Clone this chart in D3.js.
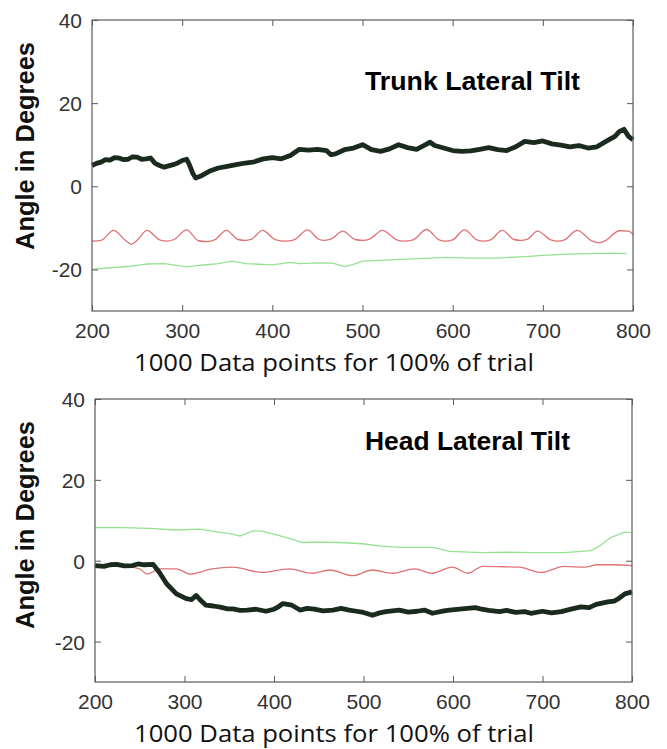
<!DOCTYPE html>
<html>
<head>
<meta charset="utf-8">
<script src="https://cdn.jsdelivr.net/npm/d3@7"></script>
<style>
  body { margin: 0; background: #fff; }
  svg { display: block; }
</style>
</head>
<body>
<div id="chart"></div>
<script>
// --- data (x = data point index, y = angle in degrees) ---
const xTicks = [200, 300, 400, 500, 600, 700, 800];
const yTicks = [-20, 0, 20, 40];

// Trunk lateral tilt
const trunkBlackX = [200,205,210,215,220,225,230,235,240,245,250,255,260,265,270,275,280,285,290,295,300,305,308,312,315,320,325,330,340,350,360,370,380,390,400,410,420,430,440,450,460,465,470,480,490,500,510,520,530,540,550,560,570,575,580,590,600,610,620,630,640,650,660,670,680,690,700,710,720,730,740,750,760,770,780,785,790,795,800];
const trunkBlackY = [5.0,5.5,5.8,6.4,6.3,6.9,6.8,6.4,6.5,7.1,7.0,6.5,6.6,6.8,5.5,5.0,4.6,4.9,5.2,5.6,6.2,6.5,5.2,3.0,2.0,2.4,3.0,3.6,4.4,4.8,5.2,5.6,5.9,6.6,6.9,6.6,7.4,8.9,8.7,8.9,8.6,7.6,7.8,8.8,9.2,10.0,8.8,8.4,9.0,10.0,9.3,8.9,10.0,10.6,9.8,9.2,8.6,8.4,8.5,8.9,9.3,8.8,8.6,9.5,10.8,10.5,10.9,10.2,9.9,9.5,9.8,9.2,9.5,10.8,12.0,13.2,13.7,12.0,11.2];
const trunkRedX = [200,210,224,236,244,250,261,275,283,291,305,318,327,336,349,362,369,377,389,404,414,424,439,452,458,466,478,492,500,508,522,538,546,556,571,585,592,600,613,627,634,642,655,668,675,683,694,709,716,724,738,755,762,770,785,795,800];
const trunkRedY = [-13.2,-13.0,-10.6,-12.8,-13.9,-13.0,-10.6,-12.9,-13.2,-12.8,-10.5,-13.1,-13.3,-12.9,-10.6,-12.8,-13.0,-12.7,-10.6,-12.9,-13.2,-12.9,-10.5,-12.8,-13.0,-12.6,-10.8,-12.8,-13.0,-12.7,-10.6,-12.9,-13.2,-12.9,-10.4,-12.9,-13.2,-12.9,-10.5,-12.9,-13.2,-12.9,-10.6,-12.8,-13.0,-12.7,-10.8,-12.9,-13.2,-12.9,-10.6,-13.2,-13.6,-13.0,-10.7,-10.8,-11.6];
const trunkGreenX = [200,220,240,260,280,300,305,320,340,356,370,400,420,430,450,467,480,490,500,530,560,593,620,648,680,700,722,750,777,793];
const trunkGreenY = [-20,-19.6,-19.3,-18.7,-18.6,-19.2,-19.4,-19.0,-18.6,-18.0,-18.6,-18.9,-18.3,-18.6,-18.4,-18.5,-19.3,-18.8,-18.0,-17.7,-17.4,-17.1,-17.3,-17.3,-16.9,-16.6,-16.4,-16.2,-16.1,-16.2];

// Head lateral tilt
const headBlackX = [200,210,217,224,233,242,248,255,265,272,280,291,302,308,313,318,324,332,340,348,354,362,370,380,391,400,405,410,420,429,437,445,455,466,475,484,492,500,510,518,525,540,550,560,568,577,590,596,610,625,632,640,652,660,670,680,687,700,710,721,733,743,752,760,773,780,785,792,800];
const headBlackY = [-1.2,-1.4,-1.0,-0.9,-1.3,-1.2,-0.8,-1.0,-0.9,-2.9,-5.7,-8.2,-9.4,-9.6,-8.6,-9.8,-11.0,-11.2,-11.5,-11.9,-11.9,-12.3,-12.2,-12.0,-12.5,-12.0,-11.4,-10.6,-11.0,-12.2,-11.8,-12.0,-12.4,-12.2,-11.8,-12.2,-12.5,-12.8,-13.5,-12.9,-12.6,-12.2,-12.7,-12.5,-12.2,-13.0,-12.4,-12.2,-11.9,-11.6,-12.0,-12.3,-12.6,-12.3,-12.8,-12.6,-13.0,-12.5,-12.9,-12.6,-11.9,-11.4,-11.6,-10.8,-10.2,-10.0,-9.4,-8.2,-7.7];
const headRedX = [200,230,250,258,272,291,306,331,354,387,417,443,462,488,510,532,557,577,599,617,633,659,674,699,724,747,762,780,800];
const headRedY = [-1.5,-1.3,-2.0,-3.3,-2.0,-2.0,-3.3,-2.0,-1.6,-2.9,-2.0,-3.1,-2.3,-3.7,-2.3,-3.1,-2.0,-3.1,-1.6,-3.1,-1.4,-1.5,-1.6,-2.9,-1.4,-1.6,-1.0,-1.0,-1.2];
const headGreenX = [200,230,261,290,317,340,354,362,377,387,400,414,432,450,473,499,520,540,577,590,596,633,660,687,724,754,765,776,791,799];
const headGreenY = [8.2,8.2,8.0,7.6,7.8,7.0,6.6,6.1,7.4,7.3,6.6,5.7,4.5,4.6,4.5,4.2,3.6,3.3,3.3,2.7,2.3,2.0,2.1,2.0,2.0,2.5,3.8,5.7,7.0,7.0];

const colors = { black: '#1b2a1e', red: '#de7276', green: '#96e292' };

const W = 667, H = 749;
const svg = d3.select('#chart').append('svg')
    .attr('width', W)
    .attr('height', H);

const zip = (xs, ys) => xs.map((x, i) => ({ x: x, y: ys[i] }));

const panels = [
    {
        title: 'Trunk Lateral Tilt', titleX: 365, titleY: 90,
        left: 92, right: 633, top: 20, bottom: 311,
        series: [
            { data: zip(trunkGreenX, trunkGreenY), color: colors.green, width: 1.3, curve: d3.curveLinear },
            { data: zip(trunkRedX, trunkRedY), color: colors.red, width: 1.3, curve: d3.curveMonotoneX },
            { data: zip(trunkBlackX, trunkBlackY), color: colors.black, width: 4.8, curve: d3.curveLinear }
        ]
    },
    {
        title: 'Head Lateral Tilt', titleX: 365, titleY: 450,
        left: 95, right: 632, top: 399, bottom: 682,
        series: [
            { data: zip(headGreenX, headGreenY), color: colors.green, width: 1.3, curve: d3.curveLinear },
            { data: zip(headRedX, headRedY), color: colors.red, width: 1.3, curve: d3.curveMonotoneX },
            { data: zip(headBlackX, headBlackY), color: colors.black, width: 4.8, curve: d3.curveLinear }
        ]
    }
];

panels.forEach((p) => {
    let x = d3.scaleLinear().domain([200, 800]).range([p.left, p.right]);
    let y = d3.scaleLinear().domain([-30, 40]).range([p.bottom, p.top]);
    let g = svg.append('g');

    // lines
    p.series.forEach((s) => {
        let line = d3.line()
            .x((d) => x(d.x))
            .y((d) => y(d.y))
            .curve(s.curve);
        g.append('path')
            .datum(s.data)
            .attr('fill', 'none')
            .attr('stroke', s.color)
            .attr('stroke-width', s.width)
            .attr('stroke-linejoin', 'round')
            .attr('d', line);
    });

    // frame (matlab box)
    g.append('rect')
        .attr('x', p.left).attr('y', p.top)
        .attr('width', p.right - p.left).attr('height', p.bottom - p.top)
        .attr('fill', 'none')
        .attr('stroke', '#5a5a5a')
        .attr('stroke-width', 1.2);

    // axes with inward ticks
    let styleAxis = (sel) => {
        sel.select('.domain').remove();
        sel.selectAll('.tick line').attr('stroke', '#5a5a5a');
    };
    let fmt = (d) => String(d);
    g.append('g')
        .attr('transform', `translate(0,${p.bottom})`)
        .call(d3.axisBottom(x).tickValues(xTicks).tickFormat(fmt).tickSizeInner(-6).tickSizeOuter(0).tickPadding(12))
        .call(styleAxis)
        .call((a) => a.selectAll('text')
            .attr('fill', '#333')
            .style('font-family', '"Liberation Sans", Arial, sans-serif')
            .style('font-size', '21px'));
    g.append('g')
        .attr('transform', `translate(0,${p.top})`)
        .call(d3.axisTop(x).tickValues(xTicks).tickSizeInner(-6).tickSizeOuter(0).tickFormat(''))
        .call(styleAxis);
    g.append('g')
        .attr('transform', `translate(${p.left},0)`)
        .call(d3.axisLeft(y).tickValues(yTicks).tickFormat(fmt).tickSizeInner(-6).tickSizeOuter(0).tickPadding(10))
        .call(styleAxis)
        .call((a) => a.selectAll('text')
            .attr('fill', '#333')
            .attr('dy', '0.36em')
            .style('font-family', '"Liberation Sans", Arial, sans-serif')
            .style('font-size', '21px'));
    g.append('g')
        .attr('transform', `translate(${p.right},0)`)
        .call(d3.axisRight(y).tickValues(yTicks).tickSizeInner(-6).tickSizeOuter(0).tickFormat(''))
        .call(styleAxis);

    // titles
    g.append('text')
        .attr('x', p.titleX).attr('y', p.titleY)
        .attr('textLength', p.title.startsWith('Trunk') ? 215 : 205)
        .attr('lengthAdjust', 'spacingAndGlyphs')
        .style('font-family', '"Liberation Sans", Arial, sans-serif')
        .style('font-weight', 'bold')
        .style('font-size', '25px')
        .attr('fill', '#000')
        .text(p.title);

    let midY = p.top + 126;
    g.append('text')
        .attr('transform', `translate(34,${midY}) rotate(-90)`)
        .attr('text-anchor', 'middle')
        .attr('textLength', 208)
        .attr('lengthAdjust', 'spacingAndGlyphs')
        .style('font-family', '"Liberation Sans", Arial, sans-serif')
        .style('font-weight', 'bold')
        .style('font-size', '25px')
        .attr('fill', '#111')
        .text('Angle in Degrees');

    g.append('text')
        .attr('x', 134).attr('y', p.bottom + 60)
        .attr('textLength', 400)
        .attr('lengthAdjust', 'spacingAndGlyphs')
        .style('font-family', '"Open Sans", sans-serif')
        .style('font-size', '23px')
        .attr('fill', '#111')
        .text('1000 Data points for 100% of trial');
});
</script>
</body>
</html>
